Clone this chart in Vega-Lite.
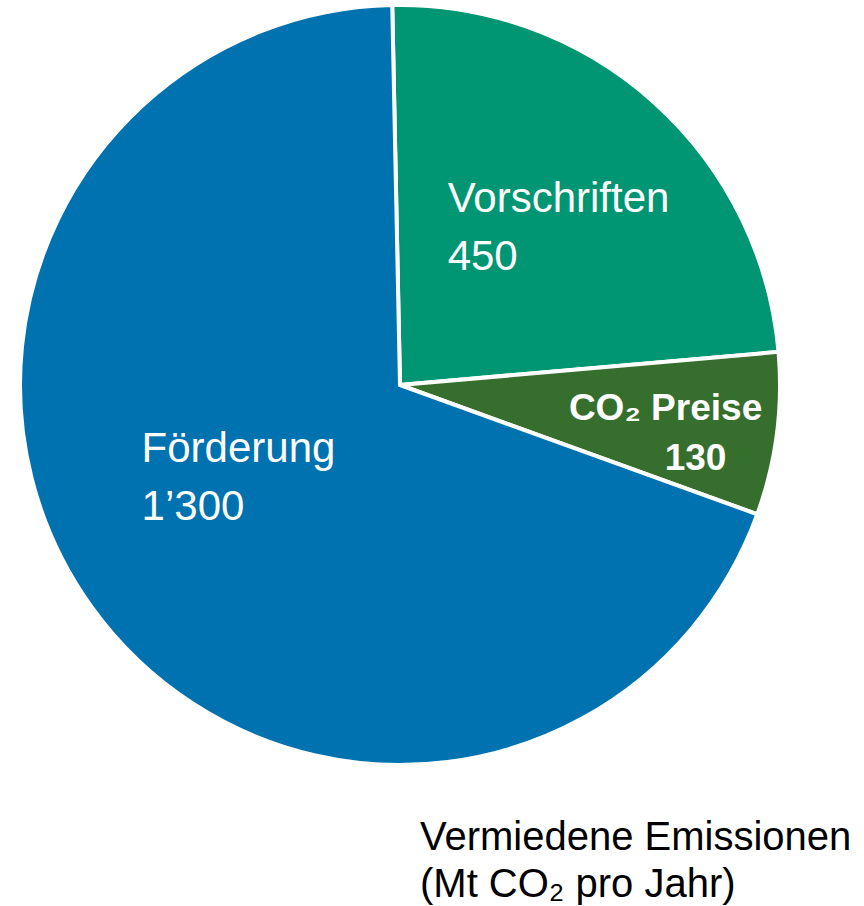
{
  "$schema": "https://vega.github.io/schema/vega-lite/v6.json",
  "width": 800,
  "height": 770,
  "autosize": {"type": "none"},
  "padding": {"left": 0, "top": 0, "right": 64, "bottom": 136},
  "background": "white",
  "config": {"view": {"stroke": null}, "font": "Liberation Sans"},
  "title": {
    "text": ["Vermiedene Emissionen", "(Mt CO₂ pro Jahr)"],
    "orient": "bottom",
    "anchor": "start",
    "align": "left",
    "baseline": "top",
    "dx": 420,
    "offset": 45,
    "lineHeight": 47,
    "fontSize": 40,
    "fontWeight": "normal",
    "font": "Liberation Sans",
    "color": "black"
  },
  "data": {
    "values": [
      {"category": "Vorschriften", "value": 450, "display": "450"},
      {"category": "CO₂ Preise", "value": 130, "display": "130"},
      {"category": "Förderung", "value": 1300, "display": "1’300"}
    ]
  },
  "encoding": {
    "theta": {"field": "value", "type": "quantitative", "stack": true, "scale": {"range": [1.4835, 7.7667]}}
  },
  "layer": [
    {
      "mark": {"type": "arc", "outerRadius": 380, "stroke": "white", "strokeWidth": 4},
      "encoding": {
        "color": {
          "field": "category",
          "type": "nominal",
          "scale": {"domain": ["CO₂ Preise", "Förderung", "Vorschriften"], "range": ["#366E2E", "#0072B0", "#009673"]},
          "legend": null
        }
      }
    },
    {
      "mark": {"type": "text", "radius": 230, "align": "left", "baseline": "alphabetic", "dx": -106, "dy": -2, "fontSize": 42, "color": "white"},
      "encoding": {
        "detail": {"field": "category", "type": "nominal"},
        "text": {"condition": {"test": "datum.category === 'Vorschriften'", "field": "category"}, "value": ""}
      }
    },
    {
      "mark": {"type": "text", "radius": 230, "align": "left", "baseline": "alphabetic", "dx": -106, "dy": 56, "fontSize": 42, "color": "white"},
      "encoding": {
        "detail": {"field": "category", "type": "nominal"},
        "text": {"condition": {"test": "datum.category === 'Vorschriften'", "field": "display"}, "value": ""}
      }
    },
    {
      "mark": {"type": "text", "radius": 190, "align": "left", "baseline": "alphabetic", "dx": -104, "dy": -34, "fontSize": 42, "color": "white"},
      "encoding": {
        "detail": {"field": "category", "type": "nominal"},
        "text": {"condition": {"test": "datum.category === 'Förderung'", "field": "category"}, "value": ""}
      }
    },
    {
      "mark": {"type": "text", "radius": 190, "align": "left", "baseline": "alphabetic", "dx": -104, "dy": 24, "fontSize": 42, "color": "white"},
      "encoding": {
        "detail": {"field": "category", "type": "nominal"},
        "text": {"condition": {"test": "datum.category === 'Förderung'", "field": "display"}, "value": ""}
      }
    },
    {
      "mark": {"type": "text", "radius": 290, "align": "center", "baseline": "alphabetic", "dx": -22, "dy": -3, "fontSize": 37, "fontWeight": "bold", "color": "white"},
      "encoding": {
        "detail": {"field": "category", "type": "nominal"},
        "text": {"condition": {"test": "datum.category === 'CO₂ Preise'", "field": "category"}, "value": ""}
      }
    },
    {
      "mark": {"type": "text", "radius": 290, "align": "center", "baseline": "alphabetic", "dx": 8, "dy": 47, "fontSize": 37, "fontWeight": "bold", "color": "white"},
      "encoding": {
        "detail": {"field": "category", "type": "nominal"},
        "text": {"condition": {"test": "datum.category === 'CO₂ Preise'", "field": "display"}, "value": ""}
      }
    }
  ]
}
